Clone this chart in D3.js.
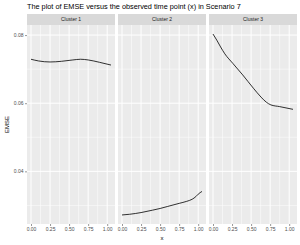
<!DOCTYPE html>
<html>
<head>
<meta charset="utf-8">
<script src="https://cdn.jsdelivr.net/npm/d3@7"></script>
<style>
  body { margin: 0; background: #fff; }
  svg { display: block; font-family: "Liberation Sans", Arial, sans-serif; }
</style>
</head>
<body>
<div id="chart"></div>
<script>
// values
const clusters = ["Cluster 1", "Cluster 2", "Cluster 3"];
const xTicks = [0, 0.25, 0.5, 0.75, 1];
const yTicks = [0.04, 0.06, 0.08];

const cluster1 = [
  [0, 0.0729], [0.1, 0.0724], [0.25, 0.0721], [0.4, 0.0723], [0.55, 0.0727],
  [0.65, 0.0729], [0.75, 0.0727], [0.9, 0.0720], [1.05, 0.0712]
];
const cluster2 = [
  [0, 0.0272], [0.1, 0.0274], [0.25, 0.0279], [0.4, 0.0286], [0.5, 0.0291],
  [0.6, 0.0297], [0.75, 0.0306], [0.85, 0.0312], [0.92, 0.0318], [0.97, 0.0326],
  [1.0, 0.0333], [1.05, 0.0341]
];
const cluster3 = [
  [0, 0.0803], [0.05, 0.0785], [0.1, 0.0765], [0.155, 0.0745], [0.26, 0.0717],
  [0.39, 0.0683], [0.53, 0.0644], [0.63, 0.0618], [0.7, 0.0603], [0.76, 0.0595],
  [0.875, 0.0590], [1.05, 0.0582]
];
const series = [cluster1, cluster2, cluster3];

const width = 300, height = 245;
const marginLeft = 27, panelW = 88, gap = 3;
const stripTop = 14, stripH = 11;
const panelTop = stripTop + stripH, panelBottom = 224;

const svg = d3.select("#chart").append("svg")
    .attr("width", width)
    .attr("height", height);

// shared scales, ggplot-like 5% expansion
const allPts = series.flat();
const xExt = d3.extent(allPts, d => d[0]);
const yExt = d3.extent(allPts, d => d[1]);
const xPad = (xExt[1] - xExt[0]) * 0.05;
const yPad = (yExt[1] - yExt[0]) * 0.05;

const y = d3.scaleLinear()
    .domain([yExt[0] - yPad, yExt[1] + yPad])
    .range([panelBottom, panelTop]);

const yMinor = [0.03, 0.05, 0.07];

svg.append("text")
    .attr("x", marginLeft)
    .attr("y", 9)
    .attr("font-size", 7.3)
    .attr("fill", "#000")
    .text("The plot of EMSE versus the observed time point (x) in Scenario 7");

clusters.forEach((name, i) => {
    const x0 = marginLeft + i * (panelW + gap);
    const x = d3.scaleLinear()
        .domain([xExt[0] - xPad, xExt[1] + xPad])
        .range([x0, x0 + panelW]);

    const g = svg.append("g");

    g.append("rect")
        .attr("x", x0).attr("y", panelTop)
        .attr("width", panelW).attr("height", panelBottom - panelTop)
        .attr("fill", "#EBEBEB");

    // minor grid
    const xMinor = d3.pairs(xTicks).map(p => (p[0] + p[1]) / 2);
    g.selectAll(".vminor").data(xMinor).enter().append("line")
        .attr("x1", d => x(d)).attr("x2", d => x(d))
        .attr("y1", panelTop).attr("y2", panelBottom)
        .attr("stroke", "#fff").attr("stroke-width", 0.5);
    g.selectAll(".hminor").data(yMinor).enter().append("line")
        .attr("x1", x0).attr("x2", x0 + panelW)
        .attr("y1", d => y(d)).attr("y2", d => y(d))
        .attr("stroke", "#fff").attr("stroke-width", 0.5);

    // major grid
    g.selectAll(".vmajor").data(xTicks).enter().append("line")
        .attr("x1", d => x(d)).attr("x2", d => x(d))
        .attr("y1", panelTop).attr("y2", panelBottom)
        .attr("stroke", "#fff").attr("stroke-width", 1);
    g.selectAll(".hmajor").data(yTicks).enter().append("line")
        .attr("x1", x0).attr("x2", x0 + panelW)
        .attr("y1", d => y(d)).attr("y2", d => y(d))
        .attr("stroke", "#fff").attr("stroke-width", 1);

    // strip
    g.append("rect")
        .attr("x", x0).attr("y", stripTop)
        .attr("width", panelW).attr("height", stripH)
        .attr("fill", "#D9D9D9");
    g.append("text")
        .attr("x", x0 + panelW / 2)
        .attr("y", stripTop + stripH / 2 + 1.8)
        .attr("text-anchor", "middle")
        .attr("font-size", 5)
        .attr("fill", "#1A1A1A")
        .text(name);

    // line
    const line = d3.line()
        .x(d => x(d[0]))
        .y(d => y(d[1]))
        .curve(d3.curveMonotoneX);
    g.append("path")
        .datum(series[i])
        .attr("d", line)
        .attr("fill", "none")
        .attr("stroke", "#000")
        .attr("stroke-width", 0.8);

    // x axis
    const xAxis = g.append("g")
        .attr("transform", `translate(0,${panelBottom})`)
        .call(d3.axisBottom(x).tickValues(xTicks).tickSize(2).tickPadding(1.5)
            .tickFormat(d3.format(".2f")));
    xAxis.select(".domain").remove();
    xAxis.selectAll("line").attr("stroke", "#333").attr("stroke-width", 0.5);
    xAxis.selectAll("text").attr("font-size", 5).attr("fill", "#4D4D4D")
        .attr("font-family", "Liberation Sans, Arial, sans-serif");
});

// y axis
const yAxis = svg.append("g")
    .attr("transform", `translate(${marginLeft},0)`)
    .call(d3.axisLeft(y).tickValues(yTicks).tickSize(2).tickPadding(1.5)
        .tickFormat(d3.format(".2f")));
yAxis.select(".domain").remove();
yAxis.selectAll("line").attr("stroke", "#333").attr("stroke-width", 0.5);
yAxis.selectAll("text").attr("font-size", 5).attr("fill", "#4D4D4D")
    .attr("font-family", "Liberation Sans, Arial, sans-serif");

// axis titles
svg.append("text")
    .attr("x", marginLeft + (3 * panelW + 2 * gap) / 2)
    .attr("y", 240)
    .attr("text-anchor", "middle")
    .attr("font-size", 6)
    .text("x");

svg.append("text")
    .attr("transform", `translate(9,${(panelTop + panelBottom) / 2}) rotate(-90)`)
    .attr("text-anchor", "middle")
    .attr("font-size", 6)
    .text("EMSE");
</script>
</body>
</html>
